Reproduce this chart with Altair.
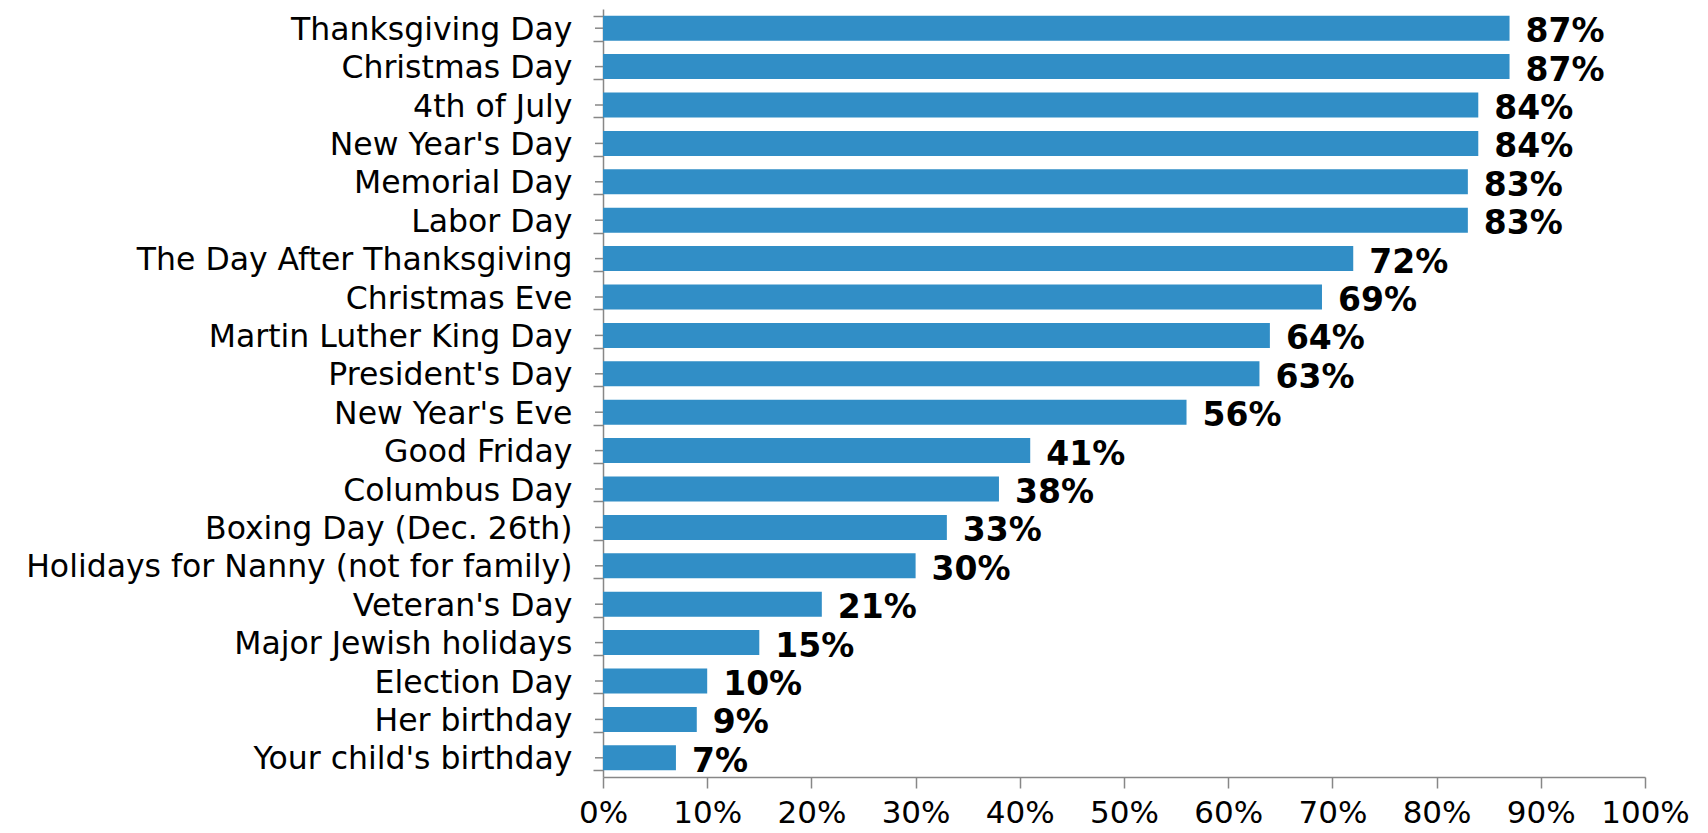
import altair as alt
import pandas as pd

categories = [
    "Thanksgiving Day", "Christmas Day", "4th of July", "New Year's Day",
    "Memorial Day", "Labor Day", "The Day After Thanksgiving", "Christmas Eve",
    "Martin Luther King Day", "President's Day", "New Year's Eve", "Good Friday",
    "Columbus Day", "Boxing Day (Dec. 26th)", "Holidays for Nanny (not for family)",
    "Veteran's Day", "Major Jewish holidays", "Election Day", "Her birthday",
    "Your child's birthday",
]
values = [87, 87, 84, 84, 83, 83, 72, 69, 64, 63, 56, 41, 38, 33, 30, 21, 15, 10, 9, 7]
x_ticks = [0, 10, 20, 30, 40, 50, 60, 70, 80, 90, 100]

df = pd.DataFrame({"cat": categories, "value": values})

FONT = "DejaVu Sans"
AXIS_COLOR = "#878787"
BAR_COLOR = "#318EC6"

y_scale = alt.Scale(domain=categories, paddingInner=0.35, paddingOuter=0.175)
x_scale = alt.Scale(domain=[0, 100], nice=False, zero=True)

base = alt.Chart(df)

bars = base.mark_bar(color=BAR_COLOR).encode(
    x=alt.X("value:Q", scale=x_scale,
            axis=alt.Axis(values=x_ticks, labelExpr="datum.value + '%'", title=None,
                          grid=False, domainColor=AXIS_COLOR, domainWidth=1.5,
                          tickColor=AXIS_COLOR, tickWidth=1.5, tickSize=11,
                          labelFont=FONT, labelFontSize=31, labelColor="black",
                          labelPadding=10, labelFlush=False, labelOverlap=False)),
    y=alt.Y("cat:N", scale=y_scale, sort=categories,
            axis=alt.Axis(title=None, grid=False, tickBand="extent",
                          domainColor=AXIS_COLOR, domainWidth=1.5,
                          tickColor=AXIS_COLOR, tickWidth=1.5, tickSize=10,
                          labelFont=FONT, labelFontSize=31.5, labelColor="black",
                          labelPadding=21, labelBaseline="alphabetic",
                          labelOffset=11, labelLimit=0)),
)

center_ticks = base.mark_rule(color=AXIS_COLOR, strokeWidth=1.5).encode(
    y=alt.Y("cat:N", scale=y_scale, sort=categories),
    x=alt.value(-8),
    x2=alt.value(0),
)

labels = base.transform_calculate(label="datum.value + '%'").mark_text(
    align="left", baseline="alphabetic", dx=16, dy=14,
    font=FONT, fontSize=33, fontWeight="bold", color="black",
).encode(
    x=alt.X("value:Q", scale=x_scale),
    y=alt.Y("cat:N", scale=y_scale, sort=categories),
    text="label:N",
)

chart = alt.layer(bars, center_ticks, labels).properties(
    width=1042, height=768,
    background="white",
    autosize=alt.AutoSizeParams(type="none"),
    padding={"left": 595, "top": 1, "right": 50, "bottom": 56},
).configure_view(stroke=None)

chart.save("out.html", embed_options={"renderer": "svg", "actions": False})
